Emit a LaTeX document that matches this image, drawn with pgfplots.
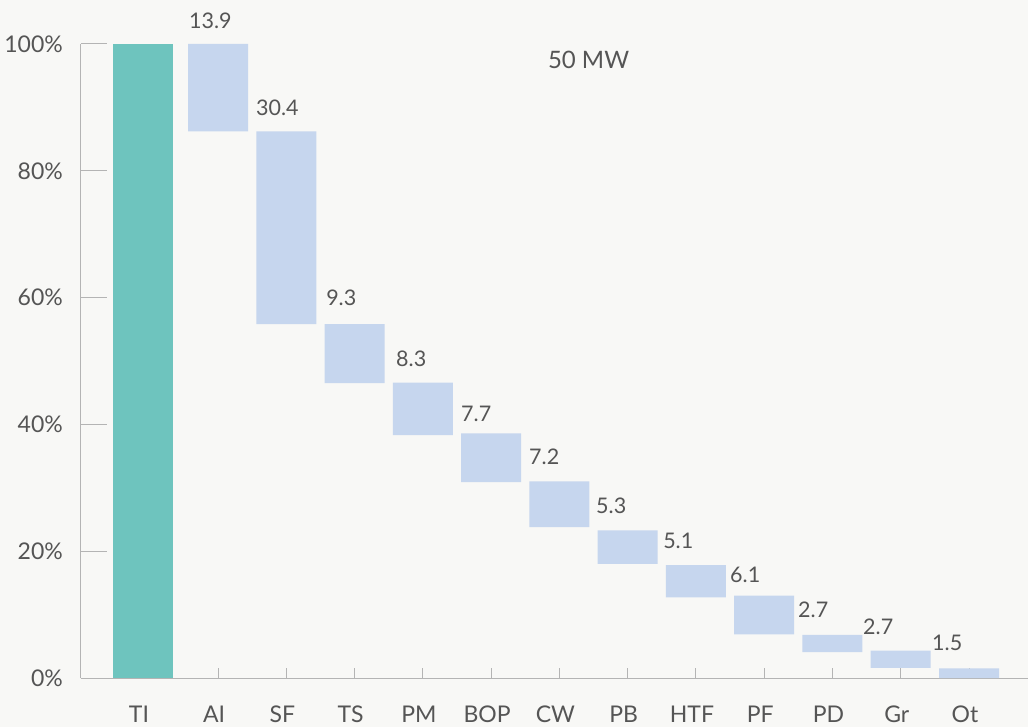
\documentclass[border=0pt]{standalone}
\usepackage{fontspec}
\setmainfont{Lato}
\usepackage{pgfplots}
\usepackage{pgfplotstable}
\pgfplotsset{compat=1.18}
\definecolor{bgc}{HTML}{F8F8F6}
\definecolor{tealc}{HTML}{6EC4BE}
\definecolor{bluec}{HTML}{C6D6EE}
\definecolor{txt}{HTML}{555555}
\definecolor{axc}{HTML}{B4B4B4}

% waterfall bars: invisible base + visible height
\pgfplotstableread{
x base hT hB
-0.1 0 100 0
1 86.2 0 13.8
2 55.8 0 30.4
3 46.5 0 9.3
4 38.3 0 8.3
5 30.9 0 7.7
6 23.8 0 7.2
7 18.0 0 5.3
8 12.7 0 5.1
9 6.9 0 6.1
10 4.1 0 2.7
11 1.6 0 2.7
12 0 0 1.5
}\wf

% value labels (left edge x, baseline y)
\pgfplotstableread{
xl yl lab
0.590 102.4 13.9
1.571 88.8 30.4
2.597 58.7 9.3
3.622 49.2 8.3
4.574 40.5 7.7
5.570 33.6 7.2
6.551 26.0 5.3
7.533 20.5 5.1
8.514 15.0 6.1
9.510 9.5 2.7
10.462 6.8 2.7
11.473 4.3 1.5
}\labs

\pgfplotsset{common/.style={
  at={(0,0)}, anchor=south west,
  scale only axis, width=947bp, height=634bp,
  xmin=-1.007, xmax=12.864, ymin=0, ymax=100,
  clip=false}}

\begin{document}
\begin{tikzpicture}
\fill[bgc] (-81bp,-49bp) rectangle (947bp,678bp);
\begin{axis}[
  common,
  ybar stacked, bar width=60bp,
  axis x line=bottom, axis y line=left,
  axis line style={draw=axc, line width=1bp, -},
  tick align=inside,
  xtick={-0.1,1,2,3,4,5,6,7,8,9,10,11,12},
  xticklabels={TI,AI,SF,TS,PM,BOP,CW,PB,HTF,PF,PD,Gr,Ot},
  ytick={0,20,...,100},
  yticklabels={0\%,20\%,40\%,60\%,80\%,100\%},
  xtick style={draw=axc, line width=1bp, /pgfplots/major tick length=10bp},
  ytick style={draw=axc, line width=1bp, /pgfplots/major tick length=26bp},
  ticklabel style={font=\fontsize{23bp}{27bp}\selectfont, text=txt, inner sep=0pt},
  xticklabel style={anchor=base, yshift=-44bp, xshift=-4bp},
  yticklabel style={anchor=east, xshift=-18bp},
]
\addplot[draw=none, fill=none] table[x=x, y=base]{\wf};
\addplot[draw=none, fill=tealc] table[x=x, y=hT]{\wf};
\addplot[draw=none, fill=bluec] table[x=x, y=hB]{\wf};
\node[font=\fontsize{24bp}{28bp}\selectfont, text=txt] at (rel axis cs:0.536,0.975) {50 MW};
\end{axis}
\begin{axis}[common, hide axis]
\addplot[only marks, mark=none, nodes near coords, point meta=explicit symbolic,
  nodes near coords style={anchor=base west, inner sep=0pt, xshift=-1bp,
    font=\fontsize{21.5bp}{25bp}\selectfont, text=txt}]
  table[x=xl, y=yl, meta=lab]{\labs};
\end{axis}
\pgfresetboundingbox
\path[use as bounding box] (-81bp,-49bp) rectangle (947bp,678bp);
\end{tikzpicture}
\end{document}
